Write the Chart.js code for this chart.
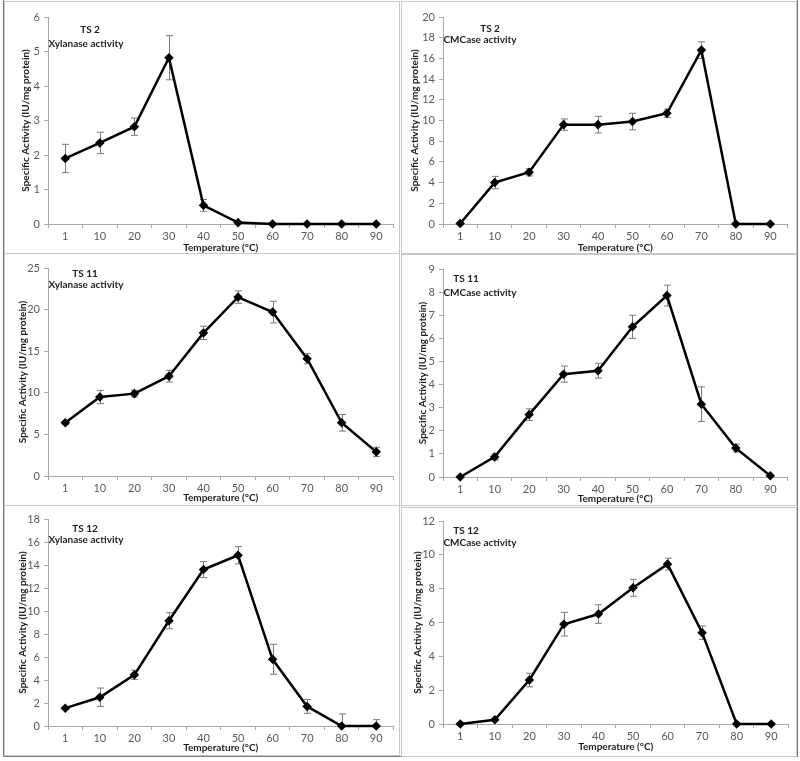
<!DOCTYPE html>
<html>
<head>
<meta charset="utf-8">
<script src="https://cdn.jsdelivr.net/npm/chart.js@4.4.1/dist/chart.umd.min.js"></script>
<style>
  body { margin: 0; background: #fff; width: 800px; height: 761px; position: relative; overflow: hidden; font-family: Lato, "Open Sans", sans-serif; }
  .frame { position: absolute; left: 3px; top: -1px; width: 793px; height: 756px; border: 1px solid #7a7a7a; }
  .panel { position: absolute; border: 1.5px solid #c8c8c8; box-sizing: border-box; }
  canvas { position: absolute; }
  .note { position: absolute; font: bold 10px Lato, sans-serif; color: #1e1e1e; white-space: nowrap; transform: translate(-50%, -50%); }
</style>
</head>
<body>
<div class="frame"></div>
<script>
// Temperature categories (°C)
const temps = ["1", "10", "20", "30", "40", "50", "60", "70", "80", "90"];

// TS 2
const ts2Xyl    = [1.90, 2.35, 2.82, 4.82, 0.54, 0.04, 0, 0, 0, 0];
const ts2XylErr = [0.41, 0.31, 0.25, 0.64, 0.17, 0, 0, 0, 0, 0];
const ts2Cmc    = [0.05, 4.0, 5.0, 9.6, 9.6, 9.9, 10.7, 16.8, 0, 0];
const ts2CmcErr = [0, 0.6, 0.35, 0.55, 0.8, 0.8, 0.4, 0.8, 0, 0];

// TS 11
const ts11Xyl    = [6.4, 9.5, 9.9, 12.0, 17.2, 21.5, 19.7, 14.1, 6.4, 2.9];
const ts11XylErr = [0.2, 0.8, 0.4, 0.7, 0.8, 0.75, 1.3, 0.6, 1.0, 0.55];
const ts11Cmc    = [0, 0.87, 2.7, 4.45, 4.6, 6.5, 7.85, 3.15, 1.25, 0.05];
const ts11CmcErr = [0, 0.13, 0.25, 0.35, 0.32, 0.5, 0.45, 0.75, 0.17, 0];

// TS 12
const ts12Xyl    = [1.55, 2.5, 4.45, 9.15, 13.6, 14.85, 5.8, 1.7, 0, 0];
const ts12XylErr = [0.12, 0.8, 0.4, 0.7, 0.7, 0.75, 1.3, 0.6, 1.05, 0.55];
const ts12Cmc    = [0, 0.25, 2.6, 5.9, 6.5, 8.05, 9.45, 5.4, 0, 0];
const ts12CmcErr = [0, 0, 0.4, 0.7, 0.55, 0.5, 0.35, 0.4, 0, 0];

// y-axis ranges
const yMaxes = [6, 20, 25, 9, 18, 12];
const ySteps = [1, 2, 5, 1, 2, 2];

const AXIS = "#a8a8a8", TICK = "#595959", TITLE = "#1e1e1e";

const panels = [
  { box: [4, 1, 396, 253],   left: 48,  top: 17,  bottom: 224, right: 400,   yTitleX: 26,  xTitleY: 248, vals: ts2Xyl,  errs: ts2XylErr,
    notes: [["TS 2", 90, 29], ["Xylanase activity", 86, 43]] },
  { box: [401, 1, 396, 253], left: 443, top: 17,  bottom: 224, right: 793.5, yTitleX: 415, xTitleY: 248, vals: ts2Cmc,  errs: ts2CmcErr,
    notes: [["TS 2", 490, 28], ["CMCase activity", 480, 39]] },
  { box: [4, 253, 396, 253], left: 48,  top: 268, bottom: 476, right: 400,   yTitleX: 23,  xTitleY: 498, vals: ts11Xyl, errs: ts11XylErr,
    notes: [["TS 11", 85, 273], ["Xylanase activity", 86, 284]] },
  { box: [401, 254, 396, 252], left: 443, top: 269, bottom: 477, right: 793.5, yTitleX: 423, xTitleY: 499, vals: ts11Cmc, errs: ts11CmcErr,
    notes: [["TS 11", 466, 278], ["CMCase activity", 480, 292]] },
  { box: [4, 505, 396, 251], left: 48,  top: 519, bottom: 726, right: 400,   yTitleX: 23,  xTitleY: 748, vals: ts12Xyl, errs: ts12XylErr,
    notes: [["TS 12", 85, 528], ["Xylanase activity", 86, 539]] },
  { box: [401, 507, 396, 250], left: 443, top: 521, bottom: 724, right: 794.5, yTitleX: 418, xTitleY: 747, vals: ts12Cmc, errs: ts12CmcErr,
    notes: [["TS 12", 466, 530], ["CMCase activity", 480, 542]] },
];

// error bars drawn from each point's value ± error through the chart's own scales
const errorBars = {
  id: "errorBars",
  beforeDatasetsDraw(chart, args, opts) {
    const { ctx, scales: { x, y } } = chart;
    const vals = chart.data.datasets[0].data;
    ctx.save();
    ctx.strokeStyle = "#7a7a7a";
    ctx.lineWidth = 1;
    vals.forEach((v, i) => {
      const e = opts.errs[i];
      if (!e) return;
      const px = Math.round(x.getPixelForValue(i)) + 0.5;
      const hi = y.getPixelForValue(v + e);
      const lo = y.getPixelForValue(Math.max(0, v - e));
      ctx.beginPath();
      ctx.moveTo(px, hi); ctx.lineTo(px, lo);
      ctx.moveTo(px - 3.5, hi); ctx.lineTo(px + 3.5, hi);
      if (v - e > 0) { ctx.moveTo(px - 3.5, lo); ctx.lineTo(px + 3.5, lo); }
      ctx.stroke();
    });
    ctx.restore();
  },
};

panels.forEach((p, k) => {
  const [bl, bt, bw, bh] = p.box;
  const box = document.createElement("div");
  box.className = "panel";
  Object.assign(box.style, { left: bl + "px", top: bt + "px", width: bw + "px", height: bh + "px" });
  document.body.appendChild(box);

  const xh = p.xTitleY - p.bottom + 6;
  const cv = document.createElement("canvas");
  cv.width = Math.round(p.right - bl);
  cv.height = p.bottom + xh - bt;
  Object.assign(cv.style, { left: bl + "px", top: bt + "px" });
  document.body.appendChild(cv);

  new Chart(cv, {
    type: "line",
    data: {
      labels: temps,
      datasets: [{
        data: p.vals,
        borderColor: "#000", borderWidth: 2.5,
        pointStyle: "rectRot", pointRadius: 3, pointBackgroundColor: "#000", pointBorderColor: "#000",
        tension: 0, clip: false,
      }],
    },
    options: {
      responsive: false, animation: false,
      layout: { padding: { top: p.top - bt, left: 0, right: 0, bottom: 0 } },
      plugins: { legend: { display: false }, tooltip: { enabled: false }, errorBars: { errs: p.errs } },
      scales: {
        x: {
          offset: true,
          grid: { offset: true, drawOnChartArea: false, tickLength: 4, color: AXIS },
          border: { color: AXIS, width: 1 },
          ticks: { color: TICK, font: { family: "Lato", size: 11 }, padding: 2, maxRotation: 0, autoSkip: false },
          title: { display: true, text: "Temperature (°C)", color: TITLE, font: { family: "Lato", size: 10, weight: "bold" }, padding: { top: 0, bottom: 0 } },
          afterFit: (s) => { s.height = xh; },
        },
        y: {
          min: 0, max: yMaxes[k],
          grid: { drawOnChartArea: false, tickLength: 4, color: AXIS },
          border: { color: AXIS, width: 1 },
          ticks: { stepSize: ySteps[k], color: TICK, font: { family: "Lato", size: 11 }, padding: 4 },
          title: { display: true, text: "Specific Activity (IU/mg protein)", color: TITLE, font: { family: "Lato", size: 10, weight: "bold" }, padding: { top: p.yTitleX - bl - 6, bottom: 0 } },
          afterFit: (s) => { s.width = p.left - bl; },
        },
      },
    },
    plugins: [errorBars],
  });

  p.notes.forEach(([t, cx, cy]) => {
    const d = document.createElement("div");
    d.className = "note";
    d.textContent = t;
    Object.assign(d.style, { left: cx + "px", top: cy + "px" });
    document.body.appendChild(d);
  });
});
</script>
</body>
</html>
